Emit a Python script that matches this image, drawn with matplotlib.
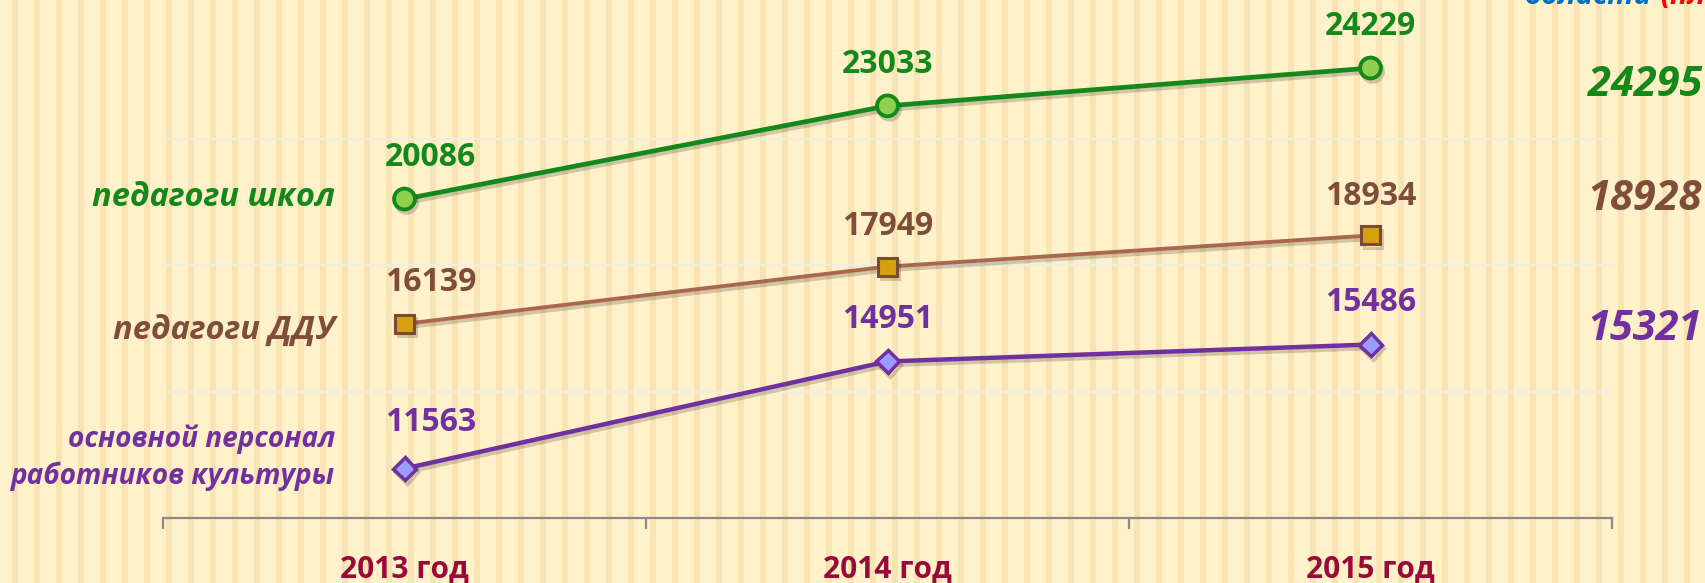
import matplotlib
matplotlib.use("Agg")
import matplotlib.pyplot as plt
import matplotlib.patheffects as pe
import numpy as np

# ---------------- data ----------------
years = ["2013 год", "2014 год", "2015 год"]
schools = [20086, 23033, 24229]
preschool = [16139, 17949, 18934]
culture = [11563, 14951, 15486]
series_names = ["педагоги школ", "педагоги ДДУ", "основной персонал\nработников культуры"]
target_values = ["24295", "18928", "15321"]
grid_values = [14000, 18000, 22000]

plt.rcParams['font.family'] = ['Open Sans', 'DejaVu Sans']

W, H = 1705, 583
fig = plt.figure(figsize=(W / 100, H / 100), dpi=100)

# ---------------- striped background ----------------
bg = fig.add_axes([0, 0, 1, 1], zorder=-5)
bg.set_xlim(0, W)
bg.set_ylim(0, H)
bg.axis("off")
bg.add_patch(plt.Rectangle((0, 0), W, H, color="#FFF1C9", zorder=0))
for x0 in np.arange(12, W, 22):
    bg.axvspan(x0, x0 + 5.5, color="#F8E3B4", lw=0, zorder=1)

# ---------------- main axes ----------------
left, right, bottom_px = 163, 1612, 518
ax = fig.add_axes([left / W, (H - bottom_px) / H, (right - left) / W, bottom_px / H])
ax.patch.set_alpha(0)
x = np.arange(len(years))
ax.set_xlim(-0.5, len(years) - 0.5)
ax.set_ylim(10000, 26380)

for g in grid_values:
    ax.axhline(g, color="#EEEDE9", lw=1.3, zorder=1)

for s in ["top", "right", "left"]:
    ax.spines[s].set_visible(False)
ax.spines["bottom"].set_color("#8A8A8A")
ax.spines["bottom"].set_linewidth(1.6)
ax.set_yticks([])
ax.set_xticks(np.arange(-0.5, len(years), 1.0))
ax.set_xticklabels([])
ax.tick_params(axis="x", direction="out", length=8, width=1.6, color="#8A8A8A")
for i, lab in enumerate(years):
    ax.text(i, -0.1, lab, transform=ax.get_xaxis_transform(), ha="center", va="center",
            fontsize=21.5, fontweight="bold", color="#990A3A")

shadow = [pe.SimpleLineShadow(offset=(1.5, -2.5), shadow_color="k", alpha=0.18), pe.Normal()]

styles = [
    dict(data=schools, color="#12891A", marker="o", ms=15, mfc="#8FD14F", mec="#12891A", mew=2.8, lw=3.4, label_color="#12891A", dy=[30, 30, 30]),
    dict(data=preschool, color="#A9674B", marker="s", ms=13, mfc="#D6A00F", mec="#7B4A36", mew=2.2, lw=2.8, label_color="#7E4E3B", dy=[30, 29, 28]),
    dict(data=culture, color="#7030A0", marker="D", ms=12, mfc="#9C9CFF", mec="#7030A0", mew=2.5, lw=3.2, label_color="#7030A0", dy=[33, 30, 30]),
]

for st in styles:
    ax.plot(x, st["data"], color=st["color"], lw=st["lw"], marker=st["marker"], ms=st["ms"],
            mfc=st["mfc"], mec=st["mec"], mew=st["mew"], zorder=3, path_effects=shadow,
            solid_capstyle="round")
    for i, v in enumerate(st["data"]):
        dx = 19 if i == 0 else 0
        ax.annotate(str(v), (x[i], v), xytext=(dx, st["dy"][i]), textcoords="offset points",
                    ha="center", va="center", fontsize=23, fontweight="bold",
                    color=st["label_color"], annotation_clip=False)

# ---------------- left series labels ----------------
left_pos = [(335, 197), (335, 330), (335, 458)]
left_sizes = [23.5, 23.5, 20.2]
for (px, py), name, st, fs in zip(left_pos, series_names, styles, left_sizes):
    fig.text(px / W, 1 - py / H, name, ha="right", va="center", fontsize=fs,
             fontweight="bold", fontstyle="italic", color=st["label_color"],
             linespacing=1.33)

# ---------------- right target values ----------------
right_pos = [85, 200, 330]
for py, val, st in zip(right_pos, target_values, styles):
    fig.text(1702 / W, 1 - py / H, val, ha="right", va="center", fontsize=30,
             fontweight="bold", fontstyle="italic", color=st["label_color"])

# ---------------- clipped title fragment at top ----------------
t1 = fig.text(1525 / W, 1 - 4 / H, "области", ha="left", va="baseline", fontsize=21,
              fontweight="bold", fontstyle="italic", color="#0070C0")
fig.canvas.draw()
bb = t1.get_window_extent()
fig.text((bb.x1 + 9) / W, 1 - 4 / H, "(план)", ha="left", va="baseline", fontsize=21,
         fontweight="bold", fontstyle="italic", color="#FF0000")

fig.savefig("out.png", dpi=100)
